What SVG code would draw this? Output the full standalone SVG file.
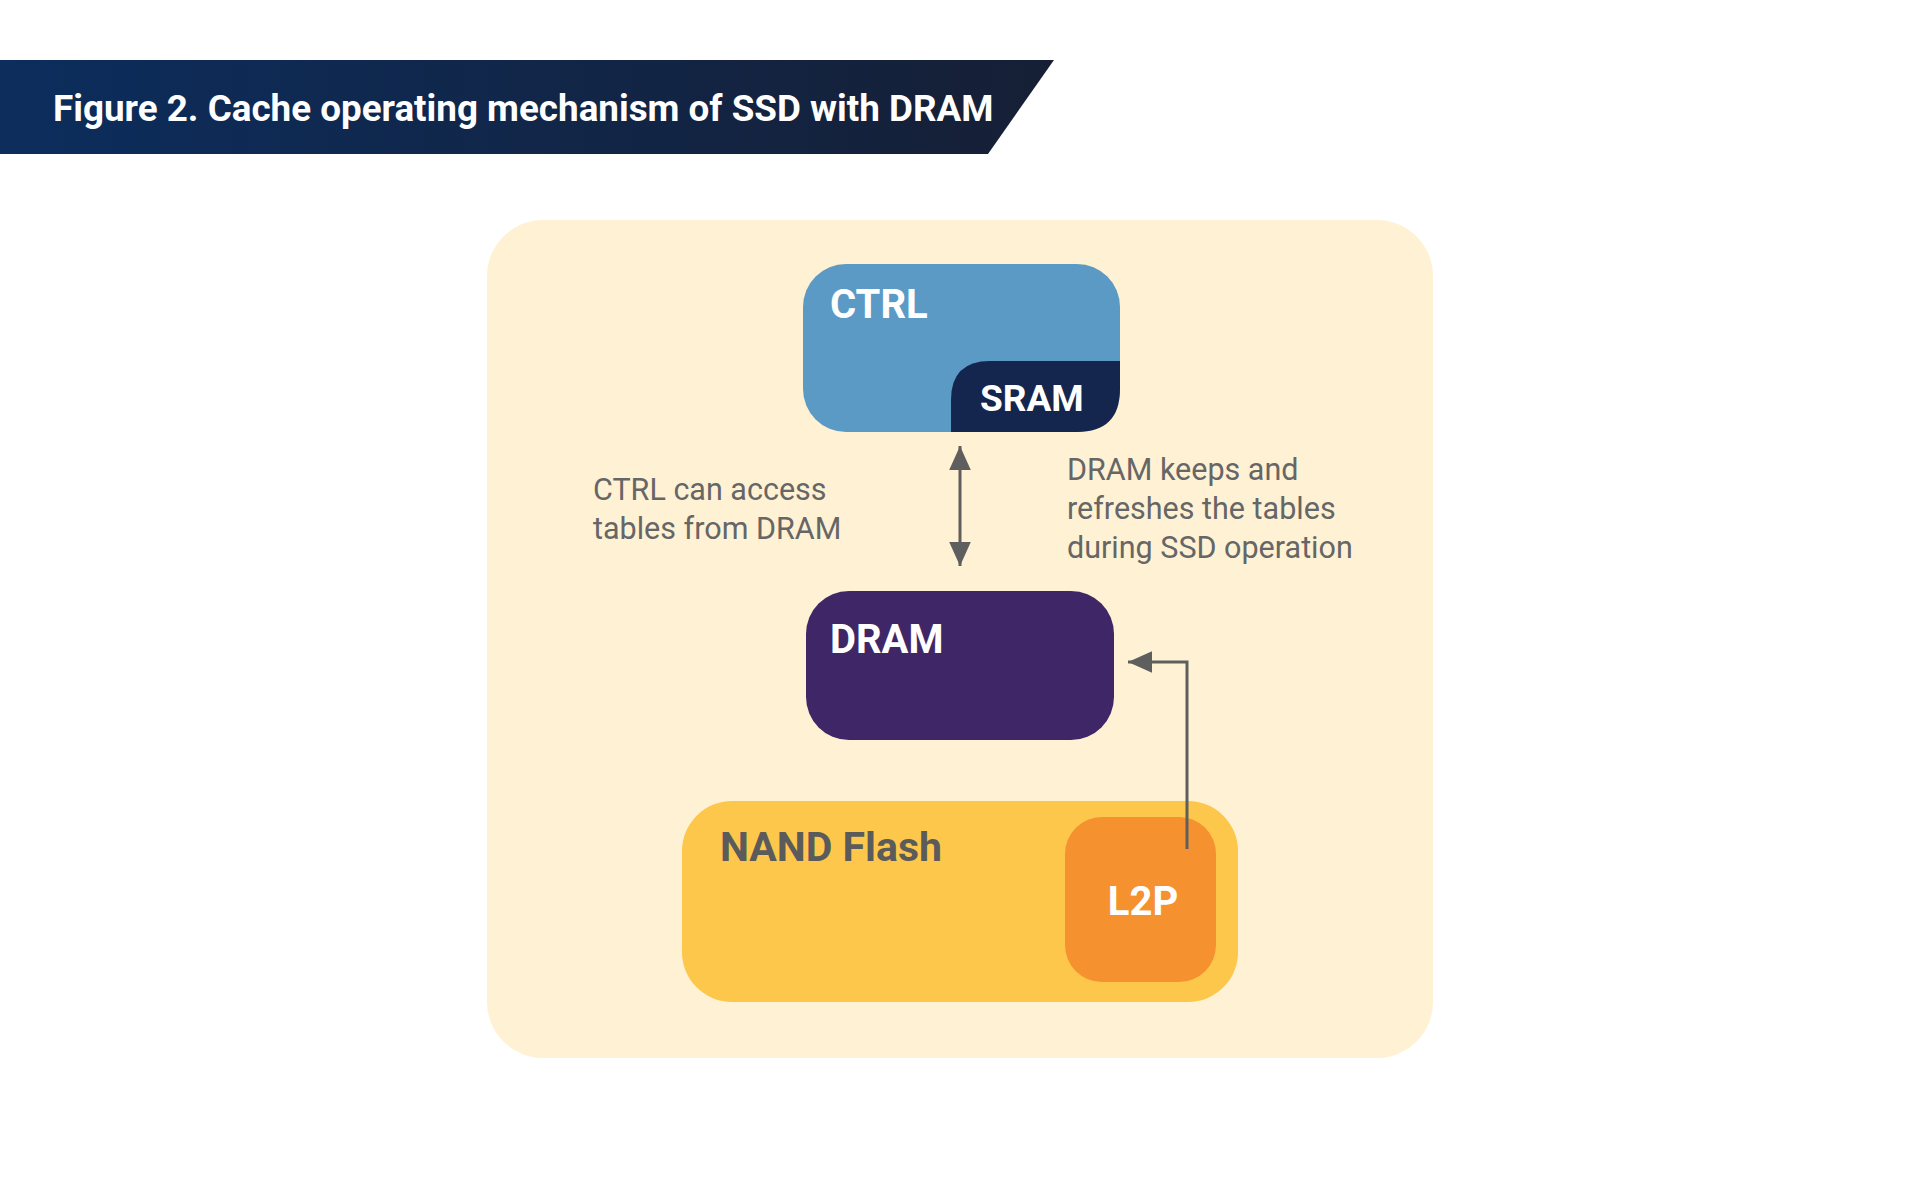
<svg xmlns="http://www.w3.org/2000/svg" width="1920" height="1200" viewBox="0 0 1920 1200">
<defs>
<linearGradient id="bannerGrad" x1="0" y1="0" x2="1" y2="0">
<stop offset="0" stop-color="#0c2d5d"/>
<stop offset="1" stop-color="#161f35"/>
</linearGradient>
<marker id="arrowHead" viewBox="0 0 10 10" refX="10" refY="5" markerWidth="24" markerHeight="24" markerUnits="userSpaceOnUse" orient="auto-start-reverse">
<path d="M0,0.5 L10,5 L0,9.5 z" fill="#5e5e5e"/>
</marker>
</defs>
<style>
.title{font-family:Roboto,"Liberation Sans",sans-serif;font-weight:700;font-size:36.8px;fill:#ffffff}
.label{font-family:Roboto,"Liberation Sans",sans-serif;font-weight:700;fill:#ffffff}
.note{font-family:Roboto,"Liberation Sans",sans-serif;font-weight:400;font-size:30.5px;fill:#666666}
.conn{fill:none;stroke:#5e5e5e;stroke-width:3}
</style>
<rect x="0" y="0" width="1920" height="1200" fill="#ffffff"/>
<g id="banner">
<polygon points="0,60 1054,60 988,154 0,154" fill="url(#bannerGrad)"/>
<text class="title" x="53" y="121">Figure 2. Cache operating mechanism of SSD with DRAM</text>
</g>
<g id="container">
<rect x="487" y="220" width="946" height="838" rx="56" fill="#fff2d4"/>
</g>
<g id="ctrl">
<rect x="803" y="264" width="317" height="168" rx="43" fill="#5c9ac6"/>
<path d="M951,432 L951,400 Q951,361 990,361 L1120,361 L1120,389 Q1120,432 1077,432 Z" fill="#14254e"/>
<text class="label" x="830" y="318" font-size="40">CTRL</text>
<text class="label" x="980" y="411" font-size="37">SRAM</text>
</g>
<g id="dram">
<rect x="806" y="591" width="308" height="149" rx="43" fill="#3f2767"/>
<text class="label" x="830" y="653" font-size="40">DRAM</text>
</g>
<g id="nand">
<rect x="682" y="801" width="556" height="201" rx="50" fill="#fcc74b"/>
<text class="label" x="720" y="861" font-size="41" style="fill:#5b5b5b">NAND Flash</text>
<rect x="1065" y="817" width="151" height="165" rx="37" fill="#f6912f"/>
<text class="label" x="1143" y="915" font-size="40" text-anchor="middle">L2P</text>
</g>
<g id="notes">
<text class="note" x="593" y="500">CTRL can access</text>
<text class="note" x="593" y="539">tables from DRAM</text>
<text class="note" x="1067" y="480">DRAM keeps and</text>
<text class="note" x="1067" y="519">refreshes the tables</text>
<text class="note" x="1067" y="558">during SSD operation</text>
</g>
<g id="connectors">
<line class="conn" x1="960" y1="446" x2="960" y2="566" marker-start="url(#arrowHead)" marker-end="url(#arrowHead)"/>
<polyline class="conn" points="1187,849 1187,662 1128,662" marker-end="url(#arrowHead)"/>
</g>
</svg>
